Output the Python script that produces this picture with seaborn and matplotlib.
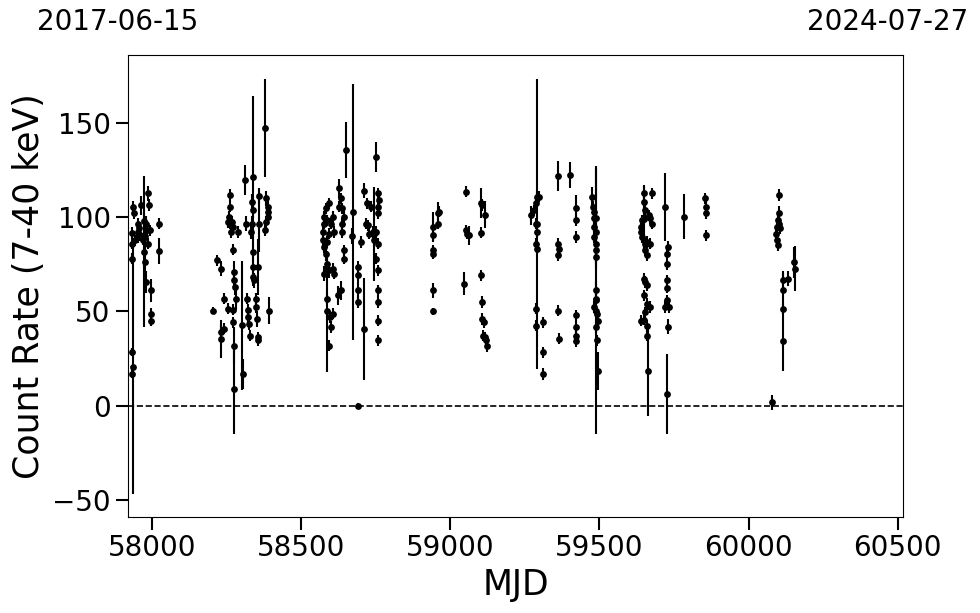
import numpy as np
import pandas as pd
import matplotlib
matplotlib.use('Agg')
import matplotlib.pyplot as plt
import seaborn as sns

# Curva de luz: (MJD, tasa de cuentas 7-40 keV, error) por temporada
obs_2017 = [(57934, 91.7, 3), (57934, 86, 3), (57934, 78, 3), (57937, 105.5, 3), (57940, 102, 3),
            (57942, 87.8, 3), (57934, 28.4, 2), (57936, 20.4, 67), (57934, 16.8, 2),
            (57951, 96.6, 3), (57951, 92, 3), (57956, 94, 3), (57954, 89.5, 3), (57959, 90.4, 3),
            (57962, 106.4, 5), (57973, 81.6, 40), (57975, 76.2, 10), (57976, 90, 5), (57979, 96.6, 4),
            (57984, 93, 5), (57987, 112.6, 4), (57990, 106.4, 3), (57992, 93, 3), (57987, 86, 3),
            (57979, 65.6, 6), (57997, 61.2, 6), (57997, 48.8, 3), (57997, 45.2, 3), (58023, 96.6, 3),
            (58023, 82, 7), (57973, 98, 4), (57970, 88, 3)]

obs_2018 = [(58205, 50.5, 2), (58217, 77.1, 3), (58231, 72.7, 4), (58242, 56.7, 3), (58253, 51.4, 3),
            (58270, 50.9, 3), (58231, 39, 4), (58231, 35.5, 10), (58240, 40.8, 3), (58270, 44.3, 3),
            (58261, 111.7, 3), (58262, 105.5, 3), (58259, 100.2, 3), (58256, 97.5, 3), (58262, 96.6, 3),
            (58267, 97.5, 3), (58270, 94.9, 3), (58265, 92.2, 3), (58289, 92.2, 3), (58270, 82.8, 3),
            (58276, 70.9, 6), (58276, 66.5, 4), (58278, 62.9, 4), (58280, 56.7, 6), (58274, 31.9, 10),
            (58276, 8.9, 24), (58300, 42.6, 34), (58304, 16.8, 8), (58310, 119.7, 8), (58315, 96.6, 4),
            (58318, 56.7, 3), (58320, 50.9, 3), (58320, 47, 3), (58326, 43.4, 3), (58329, 37.2, 3),
            (58334, 96.6, 4), (58337, 103.7, 4), (58335, 108.2, 4), (58332, 92.2, 4), (58339, 121.5, 43),
            (58337, 81.6, 5), (58337, 73.6, 5), (58337, 68.3, 5), (58343, 66.5, 4), (58348, 56.7, 3),
            (58348, 52.3, 3), (58351, 46, 4), (58356, 36.3, 3), (58356, 34.6, 3), (58359, 111.2, 4),
            (58357, 96.6, 15), (58356, 73.6, 15), (58378, 147.2, 26), (58382, 109.9, 4), (58387, 105.5, 3),
            (58390, 102.8, 3), (58387, 100.2, 3), (58382, 97.5, 3), (58380, 93, 3), (58391, 50.5, 7)]

obs_2019 = [(58594, 107.3, 3), (58583, 104.6, 3), (58577, 100.2, 3), (58575, 96.6, 3), (58572, 92.2, 3),
            (58572, 87.8, 3), (58577, 84.2, 3), (58588, 98.4, 3), (58600, 96.6, 3), (58605, 100.2, 3),
            (58611, 92.2, 3), (58594, 91.3, 3), (58586, 86.9, 3), (58583, 80.7, 4), (58585, 75.4, 4),
            (58577, 70, 4), (58588, 72.7, 4), (58594, 71.8, 4), (58605, 72.7, 3), (58611, 70, 3),
            (58586, 56.7, 3), (58588, 50, 32), (58597, 47, 3), (58605, 48.8, 3), (58600, 41.7, 3),
            (58594, 31.9, 3), (58627, 115.2, 5), (58633, 110, 3), (58627, 105.5, 3), (58638, 104.6, 3),
            (58644, 100.2, 3), (58638, 96.6, 3), (58638, 92.2, 3), (58644, 82.4, 3), (58644, 78, 3),
            (58624, 58.5, 5), (58633, 61.2, 5), (58650, 135.6, 15), (58672, 102.8, 68), (58670, 90, 4),
            (58689, 73.6, 3), (58689, 69.1, 3), (58691, 61.2, 5), (58692, 55, 3), (58700, 86.9, 3),
            (58711, 40.8, 27), (58691, 0, 1.5), (58711, 114, 4), (58717, 96.6, 3), (58722, 107.3, 3),
            (58725, 95.7, 3), (58728, 91.3, 3), (58733, 105.5, 3), (58739, 92.2, 3), (58745, 87.8, 3),
            (58750, 132, 8), (58756, 112.6, 3), (58761, 109.3, 3), (58758, 105.5, 3), (58756, 102, 3),
            (58750, 92.2, 3), (58758, 86, 3), (58750, 78, 3), (58745, 91, 25), (58756, 71.8, 3),
            (58756, 61.2, 3), (58756, 55, 3), (58756, 45.2, 3), (58758, 34.6, 3)]

obs_2020 = [(58942, 94.9, 8), (58942, 90.4, 3), (58942, 82.4, 3), (58942, 80.7, 3), (58959, 102, 6),
            (58959, 96.6, 3), (58962, 103, 3), (58942, 61.2, 4), (58942, 50, 2), (59052, 113.5, 3),
            (59052, 93, 3), (59057, 91.3, 3), (59063, 90.4, 5), (59046, 64.7, 6), (59102, 107.3, 8),
            (59107, 106.4, 3), (59115, 101.4, 7), (59102, 91.8, 3), (59102, 69.1, 3), (59107, 55, 3),
            (59107, 46, 3), (59113, 44.3, 3), (59111, 37.2, 3), (59115, 36.3, 3), (59118, 34.6, 3),
            (59124, 31.6, 3)]

obs_2021 = [(59269, 101, 5), (59280, 103.7, 3), (59286, 107.3, 3), (59292, 110.8, 3), (59297, 110.8, 3),
            (59292, 96.3, 77), (59286, 96.6, 3), (59289, 92.2, 3), (59286, 86, 3), (59289, 83.3, 3),
            (59286, 51.4, 3), (59286, 42.5, 3), (59312, 44.3, 3), (59312, 28.4, 3), (59312, 16.8, 3),
            (59361, 121.8, 8), (59401, 122.3, 7), (59420, 104.6, 7), (59420, 98.4, 3), (59423, 89.5, 3),
            (59362, 86, 3), (59364, 83.3, 3), (59362, 79.8, 3), (59361, 50.5, 3), (59364, 35.5, 3),
            (59420, 47.9, 3), (59420, 41.7, 3), (59423, 37.2, 3), (59420, 34.2, 3), (59476, 110.8, 5),
            (59479, 105.5, 3), (59481, 102.8, 3), (59483, 99.3, 3), (59481, 94.9, 3), (59487, 92.2, 3),
            (59483, 89.5, 3), (59487, 86, 3), (59490, 82.4, 3), (59487, 78.7, 3), (59490, 99.3, 27),
            (59490, 61.2, 5), (59490, 56.7, 3), (59481, 52.3, 3), (59487, 50.5, 3), (59492, 48.8, 3),
            (59494, 45.2, 3), (59490, 41.7, 3), (59492, 34.6, 3), (59494, 18.6, 10), (59490, 56, 71)]

obs_2022 = [(59649, 112.6, 4), (59677, 112.6, 3), (59651, 108.2, 3), (59654, 103.7, 3), (59649, 99.3, 3),
            (59643, 98.4, 3), (59666, 101, 3), (59671, 99.3, 3), (59677, 96.6, 3), (59638, 94.9, 3),
            (59638, 92.2, 3), (59643, 89.5, 3), (59649, 87.8, 3), (59654, 86, 3), (59660, 86.9, 3),
            (59671, 86, 3), (59654, 82.4, 3), (59660, 79.8, 3), (59649, 99, 18), (59649, 67.4, 3),
            (59654, 65.6, 3), (59658, 63.8, 3), (59649, 58.5, 3), (59660, 54, 3), (59671, 52.3, 3),
            (59654, 49.6, 3), (59638, 45.2, 3), (59649, 45.6, 3), (59660, 42.5, 3), (59660, 37.2, 3),
            (59662, 18.6, 24), (59721, 105.5, 18), (59727, 6.2, 21), (59729, 84.2, 3), (59727, 80.7, 3),
            (59725, 75, 3), (59725, 66.5, 3), (59727, 62.6, 3), (59727, 55.9, 3), (59721, 52.3, 3),
            (59732, 52.3, 3), (59729, 42, 4), (59785, 100.2, 12), (59855, 110, 3), (59859, 105.5, 3),
            (59859, 102, 3), (59859, 90.4, 3)]

obs_2023 = [(60101, 111.7, 3), (60103, 102, 4), (60099, 98.4, 3), (60095, 95, 3), (60101, 96.6, 3),
            (60106, 94, 3), (60092, 91.3, 3), (60095, 87.8, 3), (60099, 85.1, 3), (60117, 66.5, 5),
            (60114, 61.2, 9), (60114, 51.4, 3), (60114, 34.2, 16), (60131, 67.4, 4), (60151, 76, 8),
            (60157, 72.7, 12), (60078, 1.8, 4)]

mjd_range = (57919, 60518)   # 2017-06-15 .. 2024-07-27
date_labels = ['2017-06-15', '2024-07-27']

df = pd.DataFrame(obs_2017 + obs_2018 + obs_2019 + obs_2020 + obs_2021 + obs_2022 + obs_2023,
                  columns=['mjd', 'rate', 'err'])

sns.set_style('ticks')
plt.rcParams['font.family'] = ['DejaVu Sans']
plt.rcParams['text.color'] = 'black'
plt.rcParams['axes.labelcolor'] = 'black'
plt.rcParams['xtick.color'] = 'black'
plt.rcParams['ytick.color'] = 'black'

fig, ax = plt.subplots(figsize=(9.8, 6.13), dpi=100)
fig.subplots_adjust(left=0.1306, right=0.9214, bottom=0.1566, top=0.9103)

ax.errorbar(df['mjd'], df['rate'], yerr=df['err'], fmt='none', ecolor='black',
            elinewidth=1.5, capsize=0, zorder=2)
sns.scatterplot(data=df, x='mjd', y='rate', color='black', s=24, linewidth=0, ax=ax, zorder=3)

ax.axhline(0, color='black', linestyle='--', linewidth=1.2, zorder=1)

ax.set_xlim(*mjd_range)
ax.set_ylim(-59, 186)
ax.set_xticks([58000, 58500, 59000, 59500, 60000, 60500])
ax.set_yticks([-50, 0, 50, 100, 150])
ax.set_xlabel('MJD', fontsize=25)
ax.set_ylabel('Count Rate (7-40 keV)', fontsize=25)
ax.tick_params(axis='both', labelsize=20, length=9, width=1.5, direction='out',
               colors='black')
for sp in ax.spines.values():
    sp.set_linewidth(0.8)
    sp.set_color('black')

# fechas en los extremos del eje
fig.text(0.1204, 0.964, date_labels[0], ha='center', va='center', fontsize=20, color='black')
fig.text(0.906, 0.964, date_labels[1], ha='center', va='center', fontsize=20, color='black')

plt.savefig('out.png', dpi=100)
plt.close()
